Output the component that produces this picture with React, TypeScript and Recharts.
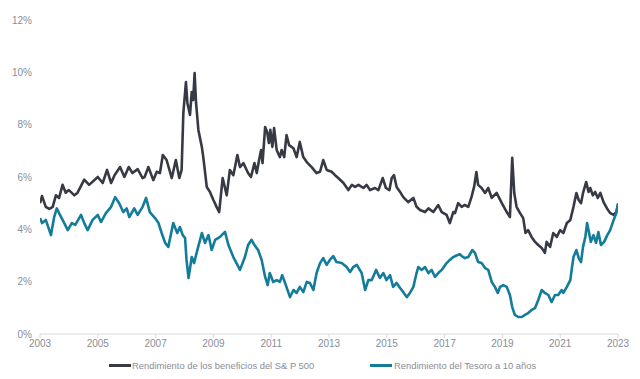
import { Line, LineChart, XAxis, YAxis } from "recharts";

// year ticks and y ticks
const yearTicks = [2003, 2005, 2007, 2009, 2011, 2013, 2015, 2017, 2019, 2021, 2023];
const pctTicks = [0, 2, 4, 6, 8, 10, 12];

// [fractional year, %]
const sp500Yield: [number, number][] = [
  [2003.0, 5.0], [2003.07, 5.27], [2003.2, 4.86], [2003.32, 4.78], [2003.44, 4.86], [2003.55, 5.3],
  [2003.66, 5.2], [2003.78, 5.7], [2003.89, 5.4], [2004.0, 5.5], [2004.19, 5.3], [2004.3, 5.4],
  [2004.53, 5.9], [2004.7, 5.7], [2005.0, 6.0], [2005.17, 5.77], [2005.32, 6.27], [2005.46, 5.77],
  [2005.58, 6.07], [2005.77, 6.38], [2005.92, 6.0], [2006.07, 6.38], [2006.2, 6.15], [2006.38, 6.3],
  [2006.55, 5.96], [2006.62, 6.0], [2006.75, 6.38], [2006.92, 5.88], [2007.04, 6.2], [2007.15, 6.15],
  [2007.25, 6.84], [2007.38, 6.65], [2007.56, 5.96], [2007.7, 6.65], [2007.82, 5.96], [2007.9, 6.27],
  [2007.96, 8.44], [2008.05, 9.63], [2008.1, 8.83], [2008.19, 8.37], [2008.25, 9.25], [2008.3, 8.94],
  [2008.35, 9.97], [2008.4, 8.83], [2008.48, 7.8], [2008.6, 7.15], [2008.65, 6.76], [2008.77, 5.62],
  [2008.88, 5.43], [2009.0, 5.12], [2009.11, 4.86], [2009.2, 4.66], [2009.32, 5.96], [2009.46, 5.3],
  [2009.57, 6.27], [2009.69, 6.07], [2009.83, 6.84], [2009.92, 6.38], [2010.04, 6.53], [2010.15, 6.27],
  [2010.2, 6.15], [2010.3, 6.0], [2010.42, 6.53], [2010.5, 6.15], [2010.58, 6.65], [2010.65, 7.03],
  [2010.7, 6.53], [2010.79, 7.91], [2010.86, 7.72], [2010.92, 7.3], [2010.97, 7.8], [2011.04, 7.15],
  [2011.1, 7.87], [2011.19, 7.03], [2011.3, 6.76], [2011.36, 7.03], [2011.45, 6.76], [2011.53, 7.6],
  [2011.62, 7.22], [2011.77, 7.1], [2011.88, 6.76], [2011.99, 7.34], [2012.11, 6.76], [2012.23, 6.57],
  [2012.4, 6.38], [2012.57, 6.15], [2012.69, 6.2], [2012.8, 6.65], [2012.92, 6.27], [2013.09, 6.2],
  [2013.21, 6.07], [2013.32, 5.96], [2013.5, 5.77], [2013.67, 5.5], [2013.79, 5.7], [2013.9, 5.62],
  [2014.02, 5.7], [2014.19, 5.58], [2014.3, 5.7], [2014.42, 5.5], [2014.59, 5.58], [2014.71, 5.5],
  [2014.86, 5.96], [2014.97, 5.58], [2015.09, 5.5], [2015.17, 5.96], [2015.25, 6.07], [2015.34, 5.62],
  [2015.46, 5.43], [2015.57, 5.23], [2015.74, 5.04], [2015.92, 5.2], [2016.03, 4.86], [2016.15, 4.74],
  [2016.32, 4.66], [2016.44, 4.8], [2016.61, 4.66], [2016.78, 4.93], [2016.9, 4.66], [2017.07, 4.55],
  [2017.18, 4.24], [2017.3, 4.66], [2017.36, 4.62], [2017.47, 5.0], [2017.59, 4.86], [2017.7, 4.93],
  [2017.82, 4.86], [2017.93, 5.23], [2018.02, 5.62], [2018.1, 6.19], [2018.16, 5.7], [2018.28, 5.58],
  [2018.4, 5.39], [2018.51, 5.58], [2018.63, 5.2], [2018.8, 5.39], [2018.98, 5.0], [2019.15, 4.66],
  [2019.26, 4.47], [2019.34, 6.73], [2019.41, 5.39], [2019.49, 4.86], [2019.61, 4.62], [2019.72, 4.43],
  [2019.8, 3.86], [2019.89, 3.97], [2020.01, 3.71], [2020.13, 3.52], [2020.24, 3.4], [2020.36, 3.29],
  [2020.47, 3.1], [2020.53, 3.52], [2020.65, 3.33], [2020.76, 3.86], [2020.88, 3.71], [2021.0, 3.97],
  [2021.11, 3.86], [2021.23, 4.24], [2021.35, 4.36], [2021.46, 4.86], [2021.56, 5.39], [2021.64, 5.12],
  [2021.72, 5.0], [2021.79, 5.39], [2021.9, 5.81], [2021.98, 5.43], [2022.04, 5.58], [2022.13, 5.3],
  [2022.21, 5.43], [2022.3, 5.2], [2022.39, 5.39], [2022.5, 5.04], [2022.62, 4.8], [2022.73, 4.62],
  [2022.85, 4.55], [2022.94, 4.66], [2023.0, 4.93],
];

const treasury10y: [number, number][] = [
  [2003.0, 4.43], [2003.07, 4.24], [2003.2, 4.36], [2003.38, 3.78], [2003.49, 4.47], [2003.58, 4.8],
  [2003.66, 4.62], [2003.84, 4.24], [2003.96, 3.97], [2004.1, 4.24], [2004.22, 4.17], [2004.42, 4.55],
  [2004.53, 4.24], [2004.65, 3.97], [2004.82, 4.36], [2005.0, 4.55], [2005.11, 4.28], [2005.28, 4.62],
  [2005.46, 4.86], [2005.6, 5.23], [2005.74, 5.0], [2005.88, 4.66], [2006.0, 4.8], [2006.09, 4.47],
  [2006.26, 4.8], [2006.38, 4.55], [2006.55, 4.86], [2006.67, 5.2], [2006.8, 4.66], [2006.98, 4.43],
  [2007.1, 4.24], [2007.21, 3.86], [2007.33, 3.48], [2007.44, 3.33], [2007.61, 4.24], [2007.75, 3.86],
  [2007.84, 4.09], [2007.94, 3.78], [2008.02, 3.67], [2008.07, 2.83], [2008.14, 2.14], [2008.25, 2.94],
  [2008.33, 2.71], [2008.42, 3.1], [2008.6, 3.86], [2008.71, 3.48], [2008.83, 3.78], [2008.94, 3.21],
  [2009.06, 3.6], [2009.23, 3.71], [2009.4, 3.9], [2009.52, 3.4], [2009.69, 2.94], [2009.92, 2.45],
  [2010.09, 2.94], [2010.2, 3.4], [2010.32, 3.6], [2010.42, 3.4], [2010.55, 3.2], [2010.67, 2.83],
  [2010.79, 2.18], [2010.88, 1.87], [2010.95, 2.33], [2011.07, 1.99], [2011.19, 2.06], [2011.3, 1.99],
  [2011.38, 2.25], [2011.48, 1.95], [2011.6, 1.57], [2011.65, 1.41], [2011.77, 1.68], [2011.88, 1.57],
  [2011.99, 1.8], [2012.11, 1.6], [2012.23, 1.99], [2012.34, 1.95], [2012.46, 1.68], [2012.57, 2.33],
  [2012.69, 2.71], [2012.8, 2.9], [2012.92, 2.64], [2013.03, 2.83], [2013.15, 2.98], [2013.26, 2.75],
  [2013.44, 2.71], [2013.61, 2.56], [2013.73, 2.37], [2013.84, 2.56], [2013.96, 2.64], [2014.13, 2.33],
  [2014.25, 1.68], [2014.36, 2.06], [2014.48, 2.06], [2014.63, 2.45], [2014.76, 2.14], [2014.88, 2.33],
  [2014.99, 2.06], [2015.11, 2.25], [2015.22, 1.8], [2015.34, 1.95], [2015.46, 1.76], [2015.57, 1.6],
  [2015.69, 1.41], [2015.8, 1.57], [2015.92, 1.8], [2016.03, 2.33], [2016.09, 2.56], [2016.21, 2.45],
  [2016.32, 2.56], [2016.44, 2.33], [2016.55, 2.45], [2016.67, 2.18], [2016.78, 2.33], [2016.9, 2.45],
  [2017.07, 2.71], [2017.18, 2.83], [2017.3, 2.94], [2017.41, 3.0], [2017.53, 3.05], [2017.59, 2.98],
  [2017.7, 2.9], [2017.82, 2.94], [2017.96, 3.21], [2018.05, 3.1], [2018.16, 2.75], [2018.28, 2.71],
  [2018.4, 2.52], [2018.51, 2.45], [2018.63, 1.99], [2018.74, 1.8], [2018.84, 1.57], [2018.92, 1.8],
  [2019.03, 1.87], [2019.15, 1.8], [2019.26, 1.49], [2019.34, 1.03], [2019.43, 0.73], [2019.55, 0.65],
  [2019.67, 0.65], [2019.78, 0.73], [2019.89, 0.8], [2020.01, 0.92], [2020.13, 0.99], [2020.24, 1.3],
  [2020.36, 1.68], [2020.47, 1.57], [2020.59, 1.49], [2020.7, 1.22], [2020.82, 1.49], [2020.93, 1.49],
  [2021.05, 1.68], [2021.11, 1.57], [2021.23, 1.8], [2021.35, 2.06], [2021.41, 2.56], [2021.46, 2.94],
  [2021.56, 3.21], [2021.64, 2.9], [2021.72, 2.75], [2021.79, 3.33], [2021.87, 3.71], [2021.93, 4.24],
  [2021.98, 3.97], [2022.06, 3.52], [2022.15, 3.78], [2022.24, 3.48], [2022.32, 3.9], [2022.41, 3.4],
  [2022.52, 3.52], [2022.63, 3.78], [2022.73, 3.97], [2022.85, 4.36], [2022.94, 4.62], [2023.0, 5.0],
];

const DARK = "#373a45";
const TEAL = "#137c9b";
const TEXT = "#8a8d97";

const toRows = (pts: [number, number][]) => pts.map(([t, v]) => ({ t, v }));

export default function App() {
  const tickStyle = { fill: TEXT, fontSize: 10 };
  return (
    <div
      style={{
        position: "relative",
        width: 640,
        height: 379,
        background: "#fff",
        fontFamily: "'Liberation Sans', Arial, sans-serif",
      }}
    >
      <style>{"body{margin:0}"}</style>
      <LineChart width={640} height={379} margin={{ top: 20, right: 22, bottom: 20, left: 0 }}>
        <XAxis
          type="number"
          dataKey="t"
          domain={[2003, 2023]}
          ticks={yearTicks}
          interval={0}
          allowDataOverflow
          stroke="#d9d9d9"
          tickSize={4}
          tickMargin={2}
          height={25}
          tick={tickStyle}
        />
        <YAxis
          domain={[0, 12]}
          ticks={pctTicks}
          tickFormatter={(v: number) => `${v}%`}
          axisLine={false}
          tickLine={false}
          width={40}
          tick={tickStyle}
        />
        <Line
          data={toRows(sp500Yield)}
          dataKey="v"
          stroke={DARK}
          strokeWidth={2.6}
          strokeLinejoin="round"
          dot={false}
          isAnimationActive={false}
        />
        <Line
          data={toRows(treasury10y)}
          dataKey="v"
          stroke={TEAL}
          strokeWidth={2.6}
          strokeLinejoin="round"
          dot={false}
          isAnimationActive={false}
        />
      </LineChart>

      <div style={{ position: "absolute", left: 109, top: 364, width: 22, height: 3, background: DARK }} />
      <div style={{ position: "absolute", left: 132, top: 360, fontSize: 9.4, lineHeight: "12px", color: TEXT }}>
        Rendimiento de los beneficios del S&amp; P 500
      </div>
      <div style={{ position: "absolute", left: 370, top: 364, width: 22, height: 3, background: TEAL }} />
      <div style={{ position: "absolute", left: 394, top: 360, fontSize: 9.4, lineHeight: "12px", color: TEXT }}>
        Rendimiento del Tesoro a 10 años
      </div>
    </div>
  );
}
